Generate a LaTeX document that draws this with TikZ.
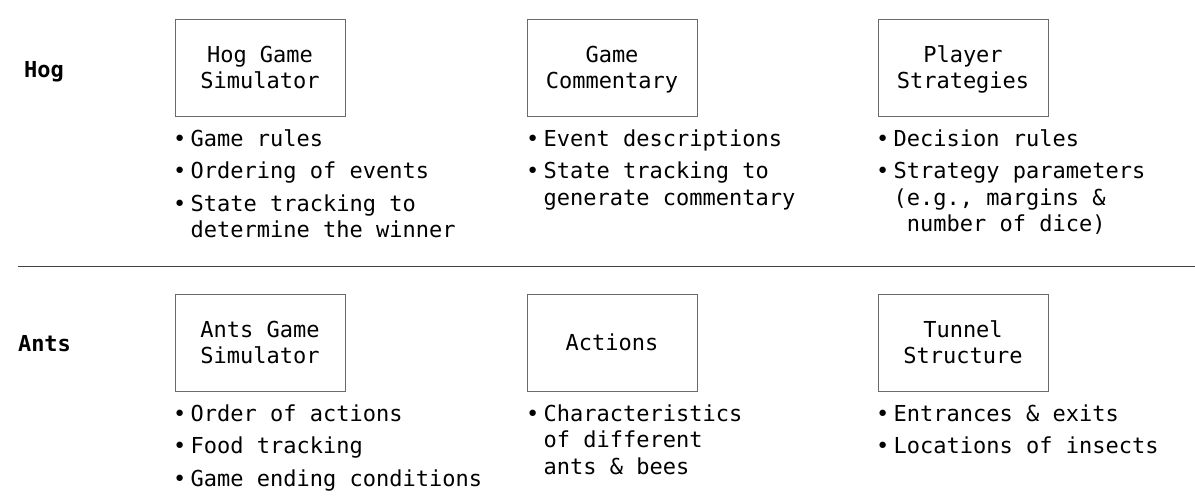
\documentclass[tikz,border=0pt]{standalone}
\usepackage{fontspec}
\newfontfamily\partfont{DejaVu Sans Mono}
\definecolor{boxgray}{HTML}{6A6A6A}
\definecolor{rulegray}{HTML}{404040}
\newcommand{\bul}{\llap{•\hspace{4.4pt}}}
\newcommand{\topstrut}{\rule{0pt}{20pt}}

\begin{document}
\begin{tikzpicture}[x=1pt,y=-1pt,
	part/.style={draw=boxgray,line width=1pt,minimum width=170pt,minimum height=97pt,inner sep=0pt,align=center,text depth=0pt,font=\partfont\fontsize{22}{26}\selectfont},
	notes/.style={anchor=north west,inner sep=0pt,align=left,font=\partfont\fontsize{22}{26.5}\selectfont},
	project/.style={inner sep=0pt,text depth=0pt,font=\partfont\bfseries\fontsize{22}{26}\selectfont}]
	
	\useasboundingbox (0,0) rectangle (1195,498);
	
	% projects
	\node[project] (hog) at (44,69) {Hog};
	\node[project] (ants) at (44.5,343) {Ants};
	
	% hog parts
	\node[part] (hogsim) at (260,67.5) {Hog Game\\Simulator};
	\node[part] (hogcom) at (612,67.5) {Game\\Commentary};
	\node[part] (hogstrat) at (963,67.5) {Player\\Strategies};
	
	% ants parts
	\node[part] (antsim) at (260,342.5) {Ants Game\\Simulator};
	\node[part] (antact) at (612,342.5) {Actions};
	\node[part] (anttun) at (963,342.5) {Tunnel\\Structure};
	
	% notes
	\node[notes] (hogsimnotes) at ([shift={(16,9.5)}]hogsim.south west) {\topstrut\bul Game rules\\[6pt]\bul Ordering of events\\[6pt]\bul State tracking to\\determine the winner};
	\node[notes] (hogcomnotes) at ([shift={(17,9.5)}]hogcom.south west) {\topstrut\bul Event descriptions\\[6pt]\bul State tracking to\\generate commentary};
	\node[notes] (hogstratnotes) at ([shift={(16,9.5)}]hogstrat.south west) {\topstrut\bul Decision rules\\[6pt]\bul Strategy parameters\\(e.g., margins \&\\\phantom{n}number of dice)};
	
	\node[notes] (antsimnotes) at ([shift={(16,9.5)}]antsim.south west) {\topstrut\bul Order of actions\\[6pt]\bul Food tracking\\[6pt]\bul Game ending conditions};
	\node[notes] (antactnotes) at ([shift={(17,9.5)}]antact.south west) {\topstrut\bul Characteristics\\of different\\ants \& bees};
	\node[notes] (anttunnotes) at ([shift={(16,9.5)}]anttun.south west) {\topstrut\bul Entrances \& exits\\[6pt]\bul Locations of insects};
	
	% separator
	\coordinate (sepleft) at (18,266.5);
	\coordinate (sepright) at (1195,266.5);
	\draw[rulegray,line width=1.5pt] (sepleft) -- (sepright);
\end{tikzpicture}
\end{document}
